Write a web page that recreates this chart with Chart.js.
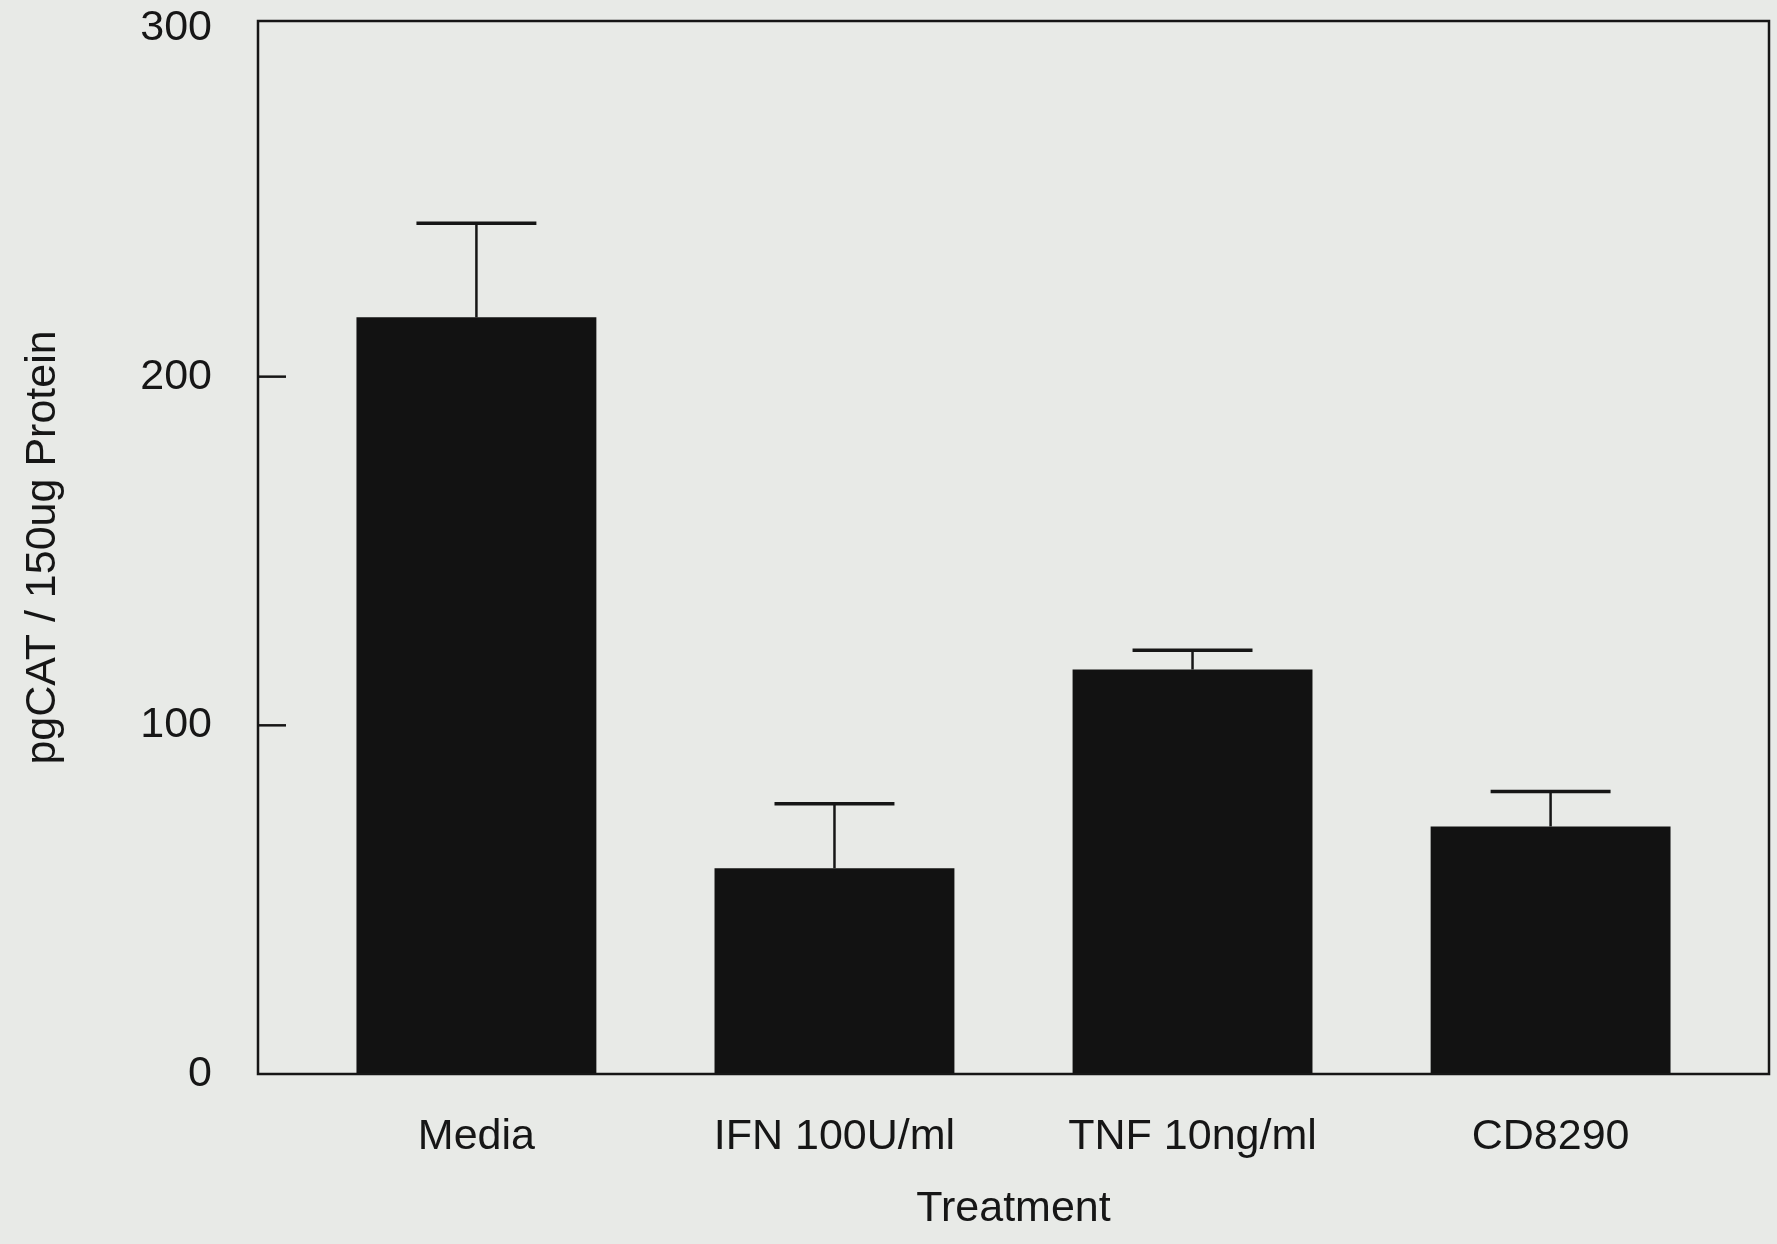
<!DOCTYPE html>
<html>
<head>
<meta charset="utf-8">
<title>pgCAT / Treatment</title>
<script src="https://cdn.jsdelivr.net/npm/chart.js@4/dist/chart.umd.min.js"></script>
<style>
  body { margin: 0; background: #e8eae7; }
  #wrap { width: 1777px; height: 1244px; }
</style>
</head>
<body>
<div id="wrap"><canvas id="barChart"></canvas></div>
<script>
  // data
  let treatments = ["Media", "IFN 100U/ml", "TNF 10ng/ml", "CD8290"];
  let catValues = [217, 59, 116, 71];
  let catErrors = [27, 18.5, 5.5, 10];
  let yTicks = [0, 100, 200, 300];

  let xTitle = "Treatment";
  let yTitle = "pgCAT / 150ug Protein";

  let fontFam = "'Liberation Sans', Arial, Helvetica, sans-serif";
  let ink = "#161616";

  let ctxBar = document.getElementById("barChart");

  let barPoints = [];
  for (let i = 0; i < treatments.length; i++) {
    barPoints.push({ x: i, y: catValues[i] });
  }

  // background, frame, inner ticks and error bars
  let paperPlugin = {
    id: "paper",
    beforeDraw(chart) {
      let c = chart.ctx;
      c.save();
      c.fillStyle = "#e8eae7";
      c.fillRect(0, 0, chart.width, chart.height);
      c.restore();
    },
    afterDatasetsDraw(chart) {
      let c = chart.ctx;
      let a = chart.chartArea;
      let ys = chart.scales.y;
      c.save();
      c.strokeStyle = ink;
      c.lineWidth = 2.5;
      c.strokeRect(a.left, a.top, a.right - a.left, a.bottom - a.top);

      // ticks point inward from the left axis
      for (const t of yTicks) {
        if (t === yTicks[0] || t === yTicks[yTicks.length - 1]) continue;
        let py = ys.getPixelForValue(t);
        c.beginPath();
        c.moveTo(a.left, py);
        c.lineTo(a.left + 28, py);
        c.stroke();
      }

      // error bars, upper half only
      let meta = chart.getDatasetMeta(0);
      meta.data.forEach((bar, i) => {
        let top = ys.getPixelForValue(catValues[i] + catErrors[i]);
        let half = bar.width / 4;
        c.lineWidth = 2.5;
        c.beginPath();
        c.moveTo(bar.x, bar.y);
        c.lineTo(bar.x, top);
        c.stroke();
        c.lineWidth = 3.5;
        c.beginPath();
        c.moveTo(bar.x - half, top);
        c.lineTo(bar.x + half, top);
        c.stroke();
      });
      c.restore();
    }
  };

  var barChart = new Chart(ctxBar, {
    type: "bar",
    data: {
      datasets: [
        {
          data: barPoints,
          backgroundColor: "#121212",
          borderWidth: 0,
          barPercentage: 0.67,
          categoryPercentage: 1
        }]
    },
    options: {
      responsive: true,
      maintainAspectRatio: false,
      animation: false,
      layout: { padding: { top: 21, right: 8, bottom: 0, left: 0 } },
      plugins: {
        legend: { display: false },
        tooltip: { enabled: false }
      },
      scales: {
        x: {
          type: "linear",
          min: -0.61,
          max: 3.61,
          offset: false,
          grid: { display: false, drawTicks: false, offset: false },
          border: { display: false },
          afterBuildTicks: (scale) => {
            scale.ticks = treatments.map((t, i) => ({ value: i }));
          },
          afterFit: (scale) => {
            scale.height = 170;
            scale.paddingLeft = 0;
            scale.paddingRight = 0;
          },
          ticks: {
            padding: 37,
            color: ink,
            font: { family: fontFam, size: 43 },
            callback: (v) => treatments[v]
          },
          title: {
            display: true,
            text: xTitle,
            color: ink,
            padding: { top: 22, bottom: 9 },
            font: { family: fontFam, size: 43 }
          }
        },
        y: {
          min: 0,
          max: 302,
          grid: { display: false, drawTicks: false },
          border: { display: false },
          afterBuildTicks: (scale) => {
            scale.ticks = yTicks.map((v) => ({ value: v }));
          },
          afterFit: (scale) => {
            scale.width = 258;
            scale.paddingTop = 0;
            scale.paddingBottom = 0;
          },
          ticks: {
            padding: 46,
            color: ink,
            font: { family: fontFam, size: 43 }
          },
          title: {
            display: true,
            text: yTitle,
            color: ink,
            padding: { top: 17, bottom: 0 },
            font: { family: fontFam, size: 43 }
          }
        }
      }
    },
    plugins: [paperPlugin]
  });
</script>
</body>
</html>
